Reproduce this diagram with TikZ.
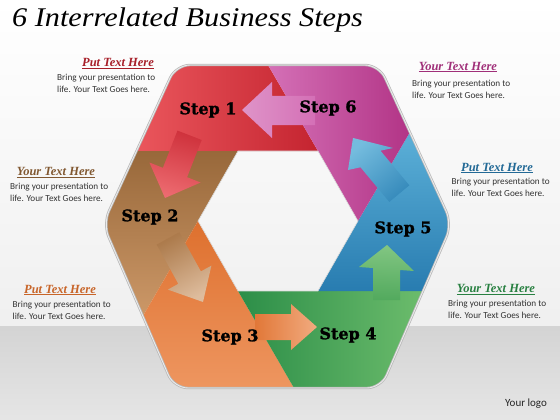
\documentclass[tikz,border=0pt]{standalone}
\usepackage{fontspec}
\setmainfont{Liberation Serif}
\newfontfamily\bodyfont{Carlito}
\newfontfamily\titlefont[FakeStretch=1.12]{Liberation Serif}
\newfontfamily\stepfont[BoldFont={* Bold},BoldFeatures={FakeBold=1.3}]{DejaVu Serif}
\usetikzlibrary{calc}
\definecolor{redlt}{RGB}{234,86,92}
\definecolor{reddk}{RGB}{196,36,48}
\definecolor{brownlt}{RGB}{204,152,104}
\definecolor{browndk}{RGB}{152,104,58}
\definecolor{orangelt}{RGB}{238,150,96}
\definecolor{orangedk}{RGB}{222,112,46}
\definecolor{greenlt}{RGB}{108,188,108}
\definecolor{greendk}{RGB}{44,142,72}
\definecolor{bluelt}{RGB}{92,176,216}
\definecolor{bluedk}{RGB}{40,124,176}
\definecolor{maglt}{RGB}{212,112,182}
\definecolor{magdk}{RGB}{178,52,134}
\tikzset{
  steplabel/.style={font=\stepfont\bfseries\fontsize{16}{18}\selectfont,text=black,inner sep=0pt},
  headtext/.style={font=\bfseries\itshape\fontsize{12.5}{14}\selectfont,inner sep=0pt},
  bodytext/.style={font=\bodyfont\fontsize{9.2}{12}\selectfont,text=black!80,align=left,anchor=west,inner sep=0pt},
  rim/.style={rounded corners=14pt}
}
\begin{document}
\begin{tikzpicture}[x=1pt,y=-1pt]
  \useasboundingbox (0,0) rectangle (560,420);
  \shade[top color=white,bottom color=black!6] (0,0) rectangle (560,326); % upper background
  \shade[top color=black!17,bottom color=black!10] (0,326) rectangle (560,420); % floor band

  \node[font=\titlefont\itshape\fontsize{27}{30}\selectfont,anchor=base west,inner sep=0pt] (title) at (12,27) {6 Interrelated Business Steps}; % title

  % outer hexagon
  \coordinate (o1) at (176,65);
  \coordinate (o2) at (379,65);
  \coordinate (o3) at (452,224);
  \coordinate (o4) at (381,388);
  \coordinate (o5) at (174,388);
  \coordinate (o6) at (103,224);
  % inner hexagon
  \coordinate (i1) at (238,151);
  \coordinate (i2) at (318,151);
  \coordinate (i3) at (358,221);
  \coordinate (i4) at (318,291);
  \coordinate (i5) at (238,291);
  \coordinate (i6) at (198,221);
  % cuts on the outer edge
  \coordinate (ctop) at (268,65);
  \coordinate (cul) at (137,151);
  \coordinate (cll) at (143,316);
  \coordinate (cbot) at (294,388);
  \coordinate (clr) at (423,291);
  \coordinate (cur) at (410,132);

  \begin{scope}
    \clip[rounded corners=14pt] (o1)--(o2)--(o3)--(o4)--(o5)--(o6)--cycle;
    \shade[left color=redlt,right color=reddk] (ctop)--(o1)--(cul)--(i1)--(i2)--cycle; % step 1
    \shade[top color=browndk,bottom color=brownlt] (cul)--(o6)--(cll)--(i6)--(i1)--cycle; % step 2
    \shade[top color=orangedk,bottom color=orangelt] (cll)--(o5)--(cbot)--(i5)--(i6)--cycle; % step 3
    \shade[left color=greendk,right color=greenlt] (cbot)--(o4)--(clr)--(i4)--(i5)--cycle; % step 4
    \shade[top color=bluelt,bottom color=bluedk] (clr)--(o3)--(cur)--(i3)--(i4)--cycle; % step 5
    \shade[left color=maglt,right color=magdk] (cur)--(o2)--(ctop)--(i2)--(i3)--cycle; % step 6

    \shade[top color=maglt,bottom color=maglt!75!white,shading angle=-90]
      (315,96)--(272,96)--(272,82)--(242,110)--(272,138)--(272,125)--(315,125)--cycle; % 6 to 1
    \shade[top color=reddk!70!redlt,bottom color=redlt!88!white,shading angle=-17]
      (177.5,130.6)--(162.9,167.8)--(149.4,162.5)--(165,198)--(200.6,182.5)--(187.1,177.2)--(201.7,140)--cycle; % 1 to 2
    \shade[top color=browndk!60!brownlt,bottom color=brownlt!65!white,shading angle=29]
      (156.7,244.6)--(178.3,283.8)--(167.9,289.6)--(203,302)--(211.4,265.6)--(200.9,271.4)--(179.3,232.2)--cycle; % 2 to 3
    \shade[top color=orangedk!80!orangelt,bottom color=orangelt!80!white,shading angle=90]
      (255,314)--(291,314)--(291,304)--(317,327)--(291,350)--(291,340)--(255,340)--cycle; % 3 to 4
    \shade[top color=greendk!40!greenlt,bottom color=greenlt!85!white,shading angle=178]
      (373,300)--(373,268)--(359,267)--(387,245)--(414,271)--(400,270)--(400,300)--cycle; % 4 to 5
    \shade[top color=bluedk!70!bluelt,bottom color=bluelt!85!white,shading angle=-140]
      (389.3,201.9)--(360.5,167.3)--(348,170)--(353,138)--(393,148)--(380.5,150.7)--(409.3,185.3)--cycle; % 5 to 6
  \end{scope}
  \draw[rim,line width=2.4pt,black!28] (o1)--(o2)--(o3)--(o4)--(o5)--(o6)--cycle; % rim
  \draw[rim,line width=0.9pt,white!92!black] (o1)--(o2)--(o3)--(o4)--(o5)--(o6)--cycle; % rim light
  \draw[line width=0.6pt,white!85!black] (i1)--(i2)--(i3)--(i4)--(i5)--(i6)--cycle; % inner edge

  \node[steplabel] (s1) at (208,110) {Step 1};
  \node[steplabel] (s2) at (150,217) {Step 2};
  \node[steplabel] (s3) at (230,337) {Step 3};
  \node[steplabel] (s4) at (348,335) {Step 4};
  \node[steplabel] (s5) at (403,229) {Step 5};
  \node[steplabel] (s6) at (328,108) {Step 6};

  \node[headtext,text=reddk!85!black] (h1) at (118,63.5) {\underline{Put Text Here}}; % top left
  \node[bodytext] (b1) at (57,83) {Bring your presentation to\\life. Your Text Goes here.};
  \node[headtext,text=magdk!90!black] (h6) at (458,67) {\underline{Your Text Here}}; % top right
  \node[bodytext] (b6) at (412,89) {Bring your presentation to\\life. Your Text Goes here.};
  \node[headtext,text=browndk!85!black] (h2) at (56,172.5) {\underline{Your Text Here}}; % middle left
  \node[bodytext] (b2) at (10,192.5) {Bring your presentation to\\life. Your Text Goes here.};
  \node[headtext,text=bluedk!85!black] (h5) at (497,168) {\underline{Put Text Here}}; % middle right
  \node[bodytext] (b5) at (451.5,187) {Bring your presentation to\\life. Your Text Goes here.};
  \node[headtext,text=orangedk!90!black] (h3) at (60,290) {\underline{Put Text Here}}; % bottom left
  \node[bodytext] (b3) at (12.5,310.5) {Bring your presentation to\\life. Your Text Goes here.};
  \node[headtext,text=greendk!90!black] (h4) at (496,289.5) {\underline{Your Text Here}}; % bottom right
  \node[bodytext] (b4) at (448,309.5) {Bring your presentation to\\life. Your Text Goes here.};
  \node[font=\bodyfont\fontsize{11}{12}\selectfont,text=black!85] (logo) at (526,404) {Your logo}; % logo
\end{tikzpicture}
\end{document}
